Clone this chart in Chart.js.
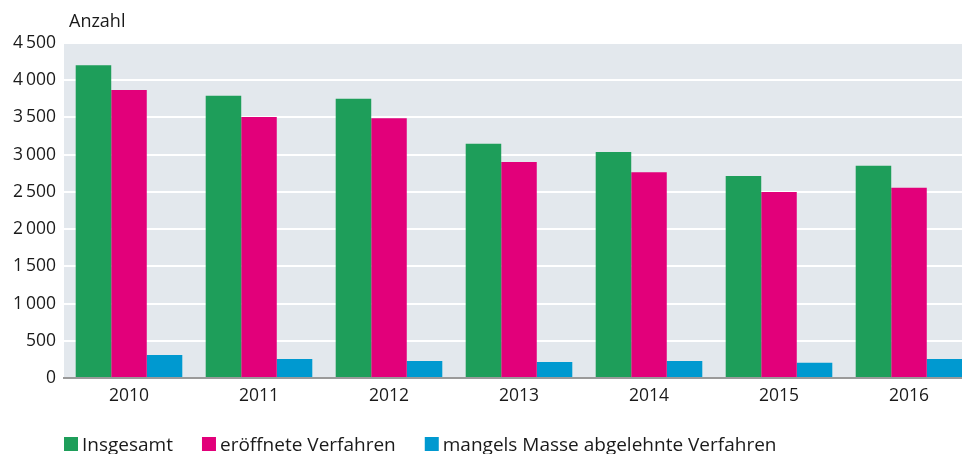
<!DOCTYPE html>
<html><head><meta charset="utf-8">
<script src="https://cdn.jsdelivr.net/npm/chart.js@4/dist/chart.umd.min.js"></script>
<style>html,body{margin:0;padding:0;background:#fff;overflow:hidden}#wrap{width:962px;height:454px;overflow:hidden;position:relative}#inner{width:974px;height:454px}</style>
</head><body><div id="wrap"><div id="inner"><canvas id="c"></canvas></div></div>
<script>
const years = ['2010','2011','2012','2013','2014','2015','2016'];
const insgesamt = [4200, 3790, 3750, 3145, 3035, 2715, 2850];
const eroeffnet = [3870, 3505, 3490, 2900, 2765, 2500, 2555];
const abgelehnt = [310, 255, 230, 215, 228, 205, 255];
const seriesLabels = ['Insgesamt', 'eröffnete Verfahren', 'mangels Masse abgelehnte Verfahren'];
const seriesColors = ['#1e9e5a', '#e2007a', '#0099d0'];
const yAxisTitle = 'Anzahl';
const FONT = '"Open Sans", "Noto Sans", sans-serif';

const bgPlugin = {
  id: 'bg',
  beforeDraw(chart) {
    const {ctx, chartArea: a} = chart;
    ctx.save();
    ctx.fillStyle = '#e3e8ed';
    ctx.fillRect(a.left, a.top, a.right - a.left, a.bottom - a.top);
    ctx.restore();
  },
  afterDraw(chart) {
    const {ctx} = chart;
    ctx.save();
    ctx.fillStyle = '#1a1a1a';
    ctx.font = '18px ' + FONT;
    ctx.textBaseline = 'alphabetic';
    ctx.textAlign = 'left';
    ctx.fillText(yAxisTitle, 69, 27);
    // legend
    ctx.font = '19px ' + FONT;
    let x = 64;
    chart.data.datasets.forEach((ds) => {
      ctx.fillStyle = ds.backgroundColor;
      ctx.fillRect(x, 437, 14, 14);
      ctx.fillStyle = '#1a1a1a';
      ctx.fillText(ds.label, x + 18, 451);
      x += 18 + ctx.measureText(ds.label).width + 29;
    });
    ctx.restore();
  }
};

new Chart(document.getElementById('c'), {
  type: 'bar',
  data: {
    labels: years,
    datasets: [
      {label: seriesLabels[0], data: insgesamt, backgroundColor: seriesColors[0]},
      {label: seriesLabels[1], data: eroeffnet, backgroundColor: seriesColors[1]},
      {label: seriesLabels[2], data: abgelehnt, backgroundColor: seriesColors[2]}
    ]
  },
  options: {
    responsive: true,
    maintainAspectRatio: false,
    animation: false,
    layout: {padding: {top: 43, right: 0, bottom: 46, left: 0}},
    datasets: {bar: {categoryPercentage: 0.82, barPercentage: 1.0}},
    plugins: {legend: {display: false}, tooltip: {enabled: false}},
    scales: {
      x: {
        grid: {display: false},
        border: {display: true, color: '#9a9a9a', width: 2},
        ticks: {color: '#1a1a1a', font: {family: FONT, size: 17.5}, padding: 0},
        afterFit(s) { s.height = 30; }
      },
      y: {
        min: 0, max: 4500,
        ticks: {
          stepSize: 500,
          color: '#1a1a1a',
          font: {family: FONT, size: 17.5},
          padding: 8,
          callback: v => v >= 1000 ? Math.floor(v/1000) + '\u2009' + String(v % 1000).padStart(3, '0') : String(v)
        },
        grid: {color: '#ffffff', lineWidth: 2, drawTicks: false},
        border: {display: false},
        afterFit(s) { s.width = 64; }
      }
    }
  },
  plugins: [bgPlugin]
});
</script>
</body></html>
